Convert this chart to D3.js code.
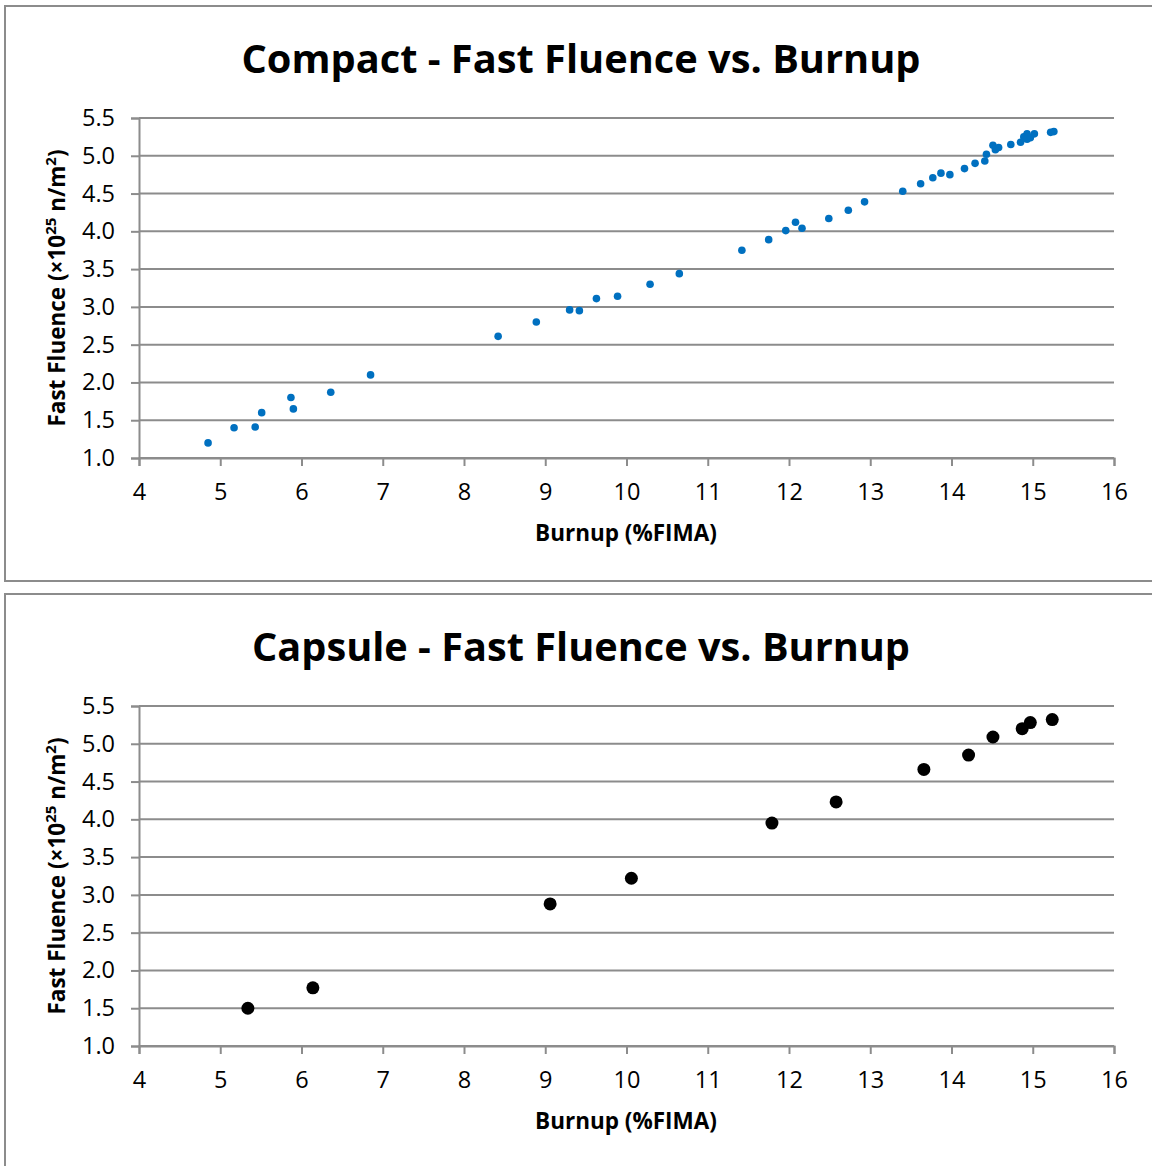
<!DOCTYPE html>
<html>
<head>
<meta charset="utf-8">
<script src="https://cdn.jsdelivr.net/npm/d3@7"></script>
<style>
  html, body { margin: 0; padding: 0; background: #fff; }
  svg { display: block; }
</style>
</head>
<body>
<svg id="chart" width="1152" height="1166"></svg>
<script>
// ---- Data ----
const compactBurnup = [4.85, 5.17, 5.43, 5.51, 5.87, 5.90, 6.36, 6.85,
  8.42, 8.89, 9.30, 9.42, 9.63, 9.89, 10.29, 10.65,
  11.42, 11.75, 11.96, 12.08, 12.16, 12.49, 12.73, 12.93,
  13.40, 13.62, 13.77, 13.87, 13.98, 14.16, 14.29, 14.41, 14.43, 14.51, 14.54, 14.58,
  14.73, 14.85, 14.89, 14.93, 14.93, 14.97, 15.02, 15.22, 15.26];
const compactFluence = [1.20, 1.40, 1.41, 1.60, 1.80, 1.65, 1.87, 2.10,
  2.61, 2.80, 2.96, 2.95, 3.11, 3.14, 3.30, 3.44,
  3.75, 3.89, 4.01, 4.12, 4.04, 4.17, 4.28, 4.39,
  4.53, 4.63, 4.71, 4.77, 4.75, 4.83, 4.90, 4.93, 5.02, 5.14, 5.08, 5.11,
  5.15, 5.18, 5.25, 5.29, 5.22, 5.24, 5.29, 5.31, 5.32];

const capsuleBurnup = [5.34, 6.14, 9.06, 10.06, 11.79, 12.58, 13.66, 14.21, 14.51, 14.87, 14.97, 15.24];
const capsuleFluence = [1.50, 1.77, 2.88, 3.22, 3.95, 4.23, 4.66, 4.85, 5.09, 5.20, 5.28, 5.32];

const xTicks = [4, 5, 6, 7, 8, 9, 10, 11, 12, 13, 14, 15, 16];
const yTicks = [1.0, 1.5, 2.0, 2.5, 3.0, 3.5, 4.0, 4.5, 5.0, 5.5];

const titles = ["Compact - Fast Fluence vs. Burnup", "Capsule - Fast Fluence vs. Burnup"];
const xLabel = "Burnup (%FIMA)";

// ---- Drawing ----
const svg = d3.select("#chart");
const FONT = "'Open Sans', 'Noto Sans', sans-serif";
const GRID = "#8c8c8c";

function drawPanel(offsetY, title, titleWidth, xs, ys, color, r) {
  const g = svg.append("g").attr("transform", `translate(0,${offsetY})`);

  // panel frame
  g.append("rect")
    .attr("x", 5).attr("y", 6)
    .attr("width", 1160).attr("height", offsetY === 0 ? 575 : 600)
    .attr("fill", "#fff")
    .attr("stroke", "#8c8c8c").attr("stroke-width", 2);

  const x = d3.scaleLinear().domain([4, 16]).range([139, 1114]);
  const y = d3.scaleLinear().domain([1.0, 5.5]).range([458, 118]);

  // gridlines
  g.append("g").selectAll("line").data(yTicks).join("line")
    .attr("x1", 139).attr("x2", 1114)
    .attr("y1", d => y(d)).attr("y2", d => y(d))
    .attr("stroke", GRID).attr("stroke-width", 2);

  // y axis
  const ya = g.append("g").attr("transform", "translate(139,0)")
    .call(d3.axisLeft(y).tickValues(yTicks).tickFormat(d3.format(".1f")).tickSize(8).tickPadding(16));
  ya.select(".domain").attr("stroke", GRID).attr("stroke-width", 2);
  ya.selectAll(".tick line").attr("stroke", GRID).attr("stroke-width", 2);
  ya.selectAll(".tick text").attr("font-family", FONT).attr("font-size", 23.5).attr("fill", "#000");

  // x axis
  const xa = g.append("g").attr("transform", "translate(0,458)")
    .call(d3.axisBottom(x).tickValues(xTicks).tickFormat(d3.format("d")).tickSize(8).tickPadding(17));
  xa.select(".domain").attr("stroke", GRID).attr("stroke-width", 2);
  xa.selectAll(".tick line").attr("stroke", GRID).attr("stroke-width", 2);
  xa.selectAll(".tick text").attr("font-family", FONT).attr("font-size", 23.5).attr("fill", "#000");

  // points
  g.append("g").selectAll("circle").data(xs.map((v, i) => [v, ys[i]])).join("circle")
    .attr("cx", d => x(d[0])).attr("cy", d => y(d[1]))
    .attr("r", r).attr("fill", color);

  // title
  g.append("text")
    .attr("x", 581).attr("y", 73)
    .attr("text-anchor", "middle")
    .attr("font-family", FONT).attr("font-weight", "bold").attr("font-size", 40)
    .attr("textLength", titleWidth).attr("lengthAdjust", "spacingAndGlyphs")
    .attr("fill", "#000")
    .text(title);

  // x label
  g.append("text")
    .attr("x", 626).attr("y", 541)
    .attr("text-anchor", "middle")
    .attr("font-family", FONT).attr("font-weight", "bold").attr("font-size", 22.5)
    .attr("fill", "#000")
    .text(xLabel);

  // y label
  const yl = g.append("text")
    .attr("transform", "translate(65,288) rotate(-90)")
    .attr("text-anchor", "middle")
    .attr("font-family", FONT).attr("font-weight", "bold").attr("font-size", 22.5)
    .attr("fill", "#000");
  yl.append("tspan").text("Fast Fluence (×10");
  yl.append("tspan").attr("dy", -9).attr("font-size", 15).text("25");
  yl.append("tspan").attr("dy", 9).text(" n/m");
  yl.append("tspan").attr("dy", -9).attr("font-size", 15).text("2");
  yl.append("tspan").attr("dy", 9).text(")");
}

drawPanel(0, titles[0], 679, compactBurnup, compactFluence, "#0070C0", 3.8);
drawPanel(588, titles[1], 658, capsuleBurnup, capsuleFluence, "#000000", 6.5);
</script>
</body>
</html>
